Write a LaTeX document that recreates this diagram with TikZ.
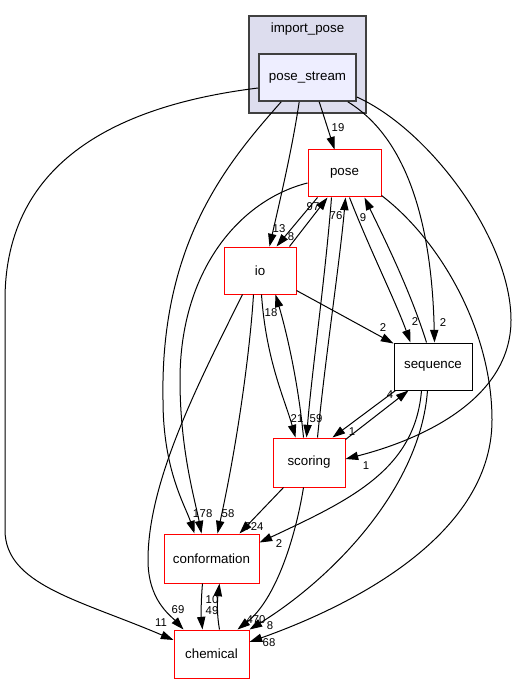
\documentclass[tikz,border=0pt]{standalone}
\usepackage{fontspec}
\setmainfont{Liberation Sans}
\usetikzlibrary{arrows.meta,calc,fit}
\definecolor{clfill}{HTML}{DDDDEE}
\definecolor{psfill}{HTML}{EEEEFF}
\definecolor{bord}{HTML}{404040}
\tikzset{
  nbox/.style={draw=red, line width=0.75pt, inner sep=0pt, font=\fontsize{10}{12}\selectfont},
  ntext/.style={font=\fontsize{10}{12}\selectfont, inner sep=0pt},
  lab/.style={font=\fontsize{8.5}{9}\selectfont, inner sep=0pt},
  dep/.style={line width=0.75pt, -{Triangle[length=9.5pt,width=6.2pt]}},
}
\begin{document}
\begin{tikzpicture}[x=0.75pt,y=-0.75pt]
\useasboundingbox[fill=white] (0,0) rectangle (516,684);
% cluster
\node[draw=bord, fill=clfill, line width=0.9pt, inner sep=0pt, fit={(249,16) (366,113)}] (cl) {};
\node[ntext] (cllab) at (307.5,29) {import\_pose};
\node[draw=bord, fill=psfill, line width=1.2pt, inner sep=0pt, fit={(259,54) (356,101)}] (ps) {};
\node[ntext] (pstext) at (ps.center) {pose\_stream};
% nodes
\node[nbox, fit={(308,150) (381,197)}] (pose) {};
\node[ntext] (posetext) at (pose.center) {pose};
\node[nbox, fit={(224,247) (296,294)}] (io) {};
\node[ntext] (iotext) at (io.center) {io};
\node[nbox, draw=black, fit={(394,343) (472,390)}] (seq) {};
\node[ntext] (seqtext) at (seq.center) {sequence};
\node[nbox, fit={(273,438) (345,487)}] (sc) {};
\node[ntext] (sctext) at (sc.center) {scoring};
\node[nbox, fit={(164,534) (259,583)}] (conf) {};
\node[ntext] (conftext) at (conf.center) {conformation};
\node[nbox, fit={(174,630) (249,678)}] (chem) {};
\node[ntext] (chemtext) at (chem.center) {chemical};

% edges from pose_stream
\draw[dep] ($(ps.west)+(0,10.5)$) .. controls (120,105) and (5,160) .. (5,300) -- (5,530) .. controls (5,585) and (80,600) .. ($(chem.west)+(0,-14)$);
\node[lab] (l11) at (161,623) {11};
\draw[dep] ($(ps.south west)+(23,0)$) .. controls (230,160) and (160,240) .. (163,400) .. controls (163,470) and (185,505) .. ($(conf.north west)+(31,0)$);
\node[lab] (l1a) at (196,514) {1};
\draw[dep] ($(ps.south west)+(41,0)$) .. controls (292,150) and (280,200) .. ($(io.north west)+(46,0)$);
\node[lab] (l13) at (279,229) {13};
\draw[dep] ($(ps.south west)+(61,0)$) -- ($(pose.north west)+(27,0)$);
\node[lab] (l19) at (338,128) {19};
\draw[dep] ($(ps.south east)+(-9,0)$) .. controls (410,140) and (432,230) .. ($(seq.north west)+(41,0)$);
\node[lab] (l2a) at (443,323) {2};
\draw[dep] ($(ps.east)+(0,19.5)$) .. controls (430,130) and (511,240) .. (511,320) .. controls (511,400) and (420,440) .. ($(sc.east)+(0,-3.5)$);
\node[lab] (l1b) at (366,466) {1};

% pose / io
\draw[dep] ($(pose.south west)+(10,0)$) -- ($(io.north west)+(53,0)$);
\node[lab] (l8a) at (291,237) {8};
\draw[dep] ($(io.north west)+(66,0)$) -- ($(pose.south west)+(20,0)$);
\node[lab] (l97) at (313,207) {97};
\draw[dep] ($(sc.north west)+(45,0)$) .. controls (325,360) and (340,260) .. ($(pose.south west)+(38,0)$);
\node[lab] (l76) at (336,216) {76};
\draw[dep] ($(pose.south west)+(24,0)$) .. controls (325,280) and (312,370) .. ($(sc.north west)+(34,0)$);
\node[lab] (l59) at (316,419) {59};
\draw[dep] ($(pose.south west)+(42,0)$) .. controls (370,250) and (395,300) .. ($(seq.north west)+(17,0)$);
\node[lab] (l2b) at (415,322) {2};
\draw[dep] ($(seq.north west)+(33,0)$) .. controls (410,290) and (385,240) .. ($(pose.south west)+(57,0)$);
\node[lab] (l9) at (363,218) {9};
\draw[dep] ($(pose.west)+(0,9.5)$) .. controls (240,200) and (180,270) .. (180,380) .. controls (180,450) and (195,500) .. ($(conf.north west)+(38,0)$);
\node[lab] (l78) at (206,514) {78};
\draw[dep] ($(pose.east)+(0,22)$) .. controls (440,240) and (492,330) .. (492,420) .. controls (492,540) and (340,610) .. ($(chem.east)+(0,-12)$);
\node[lab] (l68) at (269,643) {68};

% io
\draw[dep] ($(io.east)+(0,20)$) -- ($(seq.north west)+(0,1)$);
\node[lab] (l2c) at (383,328) {2};
\draw[dep] ($(io.south west)+(38,0)$) .. controls (266,360) and (285,400) .. ($(sc.north west)+(23,0)$);
\node[lab] (l21) at (297,419) {21};
\draw[dep] ($(sc.north west)+(31,0)$) .. controls (298,380) and (286,330) .. ($(io.south west)+(52,0)$);
\node[lab] (l18) at (271,313) {18};
\draw[dep] ($(io.south west)+(30,0)$) .. controls (250,350) and (238,440) .. ($(conf.north west)+(54,0)$);
\node[lab] (l58) at (228,514) {58};
\draw[dep] ($(io.south west)+(19,0)$) .. controls (200,380) and (148,480) .. (148,560) .. controls (148,600) and (170,615) .. ($(chem.north west)+(10,0)$);
\node[lab] (l69) at (178,610) {69};

% scoring / sequence
\draw[dep] ($(sc.north east)+(0,2)$) -- ($(seq.south west)+(15,0)$);
\node[lab] (l4) at (390,395) {4};
\draw[dep] ($(seq.south west)+(2,0)$) -- ($(sc.north west)+(60,0)$);
\node[lab] (l1c) at (352,432) {1};
\draw[dep] ($(sc.south west)+(11,0)$) -- ($(conf.north west)+(76,0)$);
\node[lab] (l724) at (254,527) {724};
\draw[dep] ($(sc.south west)+(31,0)$) .. controls (295,540) and (275,600) .. ($(chem.north west)+(64,0)$);
\node[lab] (l470) at (256,620) {470};
\draw[dep] ($(seq.south west)+(28,0)$) .. controls (415,470) and (350,500) .. ($(conf.east)+(0,-16)$);
\node[lab] (l2d) at (279,544) {2};
\draw[dep] ($(seq.south west)+(34,0)$) .. controls (420,490) and (330,580) .. (chem.north east);
\node[lab] (l8b) at (270,626) {8};

% conformation / chemical
\draw[dep] ($(conf.south west)+(39,0)$) .. controls (201,600) and (201,615) .. ($(chem.north west)+(29,0)$);
\node[lab] (l49) at (212,611) {49};
\draw[dep] ($(chem.north west)+(46,0)$) .. controls (216,610) and (218,595) .. ($(conf.south west)+(56,0)$);
\node[lab] (l10) at (212,600) {10};
\end{tikzpicture}
\end{document}
